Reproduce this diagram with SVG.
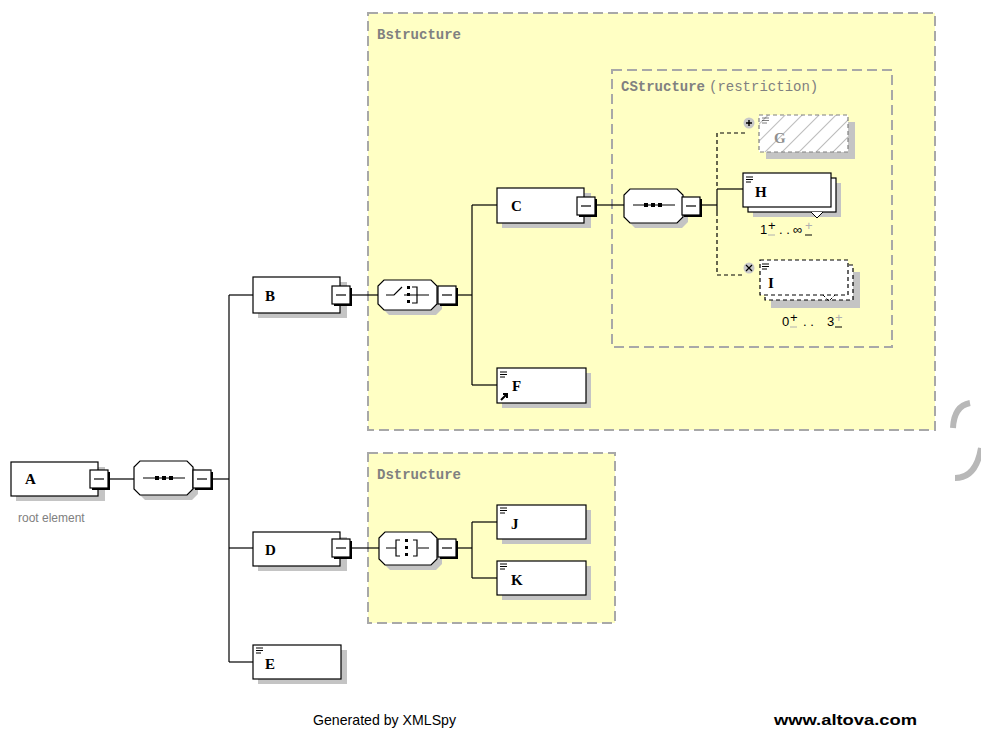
<svg xmlns="http://www.w3.org/2000/svg" width="981" height="736" viewBox="0 0 981 736">
<defs>
<style>
.grp{fill:#FFFFC4;stroke:#A8A8A8;stroke-width:2;stroke-dasharray:10,5}
.glabel{font-family:"Liberation Mono",monospace;font-weight:bold;font-size:14px;fill:#808080}
.gnorm{font-family:"Liberation Mono",monospace;font-size:14px;fill:#808080}
.box{fill:#fff;stroke:#000;stroke-width:1.2}
.shadow{fill:#C4C4C4}
.oct{fill:#fff;stroke:#000;stroke-width:1.2}
.lbl{font-family:"Liberation Serif",serif;font-weight:bold;font-size:15px;fill:#000}
.ln{fill:none;stroke:#000;stroke-width:1.2}
.dln{fill:none;stroke:#000;stroke-width:1.2;stroke-dasharray:4,3}
.mult{font-family:"Liberation Sans",sans-serif;font-size:13px;fill:#000}
.foot{font-family:"Liberation Sans",sans-serif;font-size:15px;fill:#000}
</style>
<pattern id="hatch" width="12" height="12" patternUnits="userSpaceOnUse" patternTransform="rotate(45)">
<rect width="12" height="12" fill="#fff"/>
<line x1="0" y1="0" x2="0" y2="12" stroke="#9A9A9A" stroke-width="1.3"/>
</pattern>
<g id="minus">
<rect x="0" y="0" width="18" height="18" fill="#fff" stroke="#000" stroke-width="1.2"/>
<path d="M2,19 H19 V2" fill="none" stroke="#000" stroke-width="2"/>
<line x1="4" y1="9" x2="14" y2="9" stroke="#000" stroke-width="1.2"/>
</g>
<g id="icon">
<line x1="0" y1="0" x2="7" y2="0" stroke="#000" stroke-width="1"/>
<line x1="0" y1="2.5" x2="7" y2="2.5" stroke="#000" stroke-width="1"/>
<line x1="0" y1="5" x2="5" y2="5" stroke="#000" stroke-width="1"/>
</g>
</defs>

<rect width="981" height="736" fill="#fff"/>

<!-- groups -->
<g id="Bstructure">
<rect class="grp" x="368" y="13" width="567" height="417"/>
<text class="glabel" x="377" y="39">Bstructure</text>
</g>
<g id="CStructure">
<rect class="grp" x="612" y="70" width="280" height="277"/>
<text x="621" y="91"><tspan class="glabel">CStructure</tspan><tspan class="gnorm" dx="4">(restriction)</tspan></text>
</g>
<g id="Dstructure">
<rect class="grp" x="368" y="453" width="247" height="170"/>
<text class="glabel" x="377" y="479">Dstructure</text>
</g>

<!-- connectors -->
<g id="connectors">
<line class="ln" x1="108" y1="479" x2="134" y2="479"/>
<line class="ln" x1="212" y1="479" x2="229" y2="479"/>
<line class="ln" x1="229" y1="295" x2="229" y2="662"/>
<line class="ln" x1="229" y1="295" x2="253" y2="295"/>
<line class="ln" x1="229" y1="548" x2="253" y2="548"/>
<line class="ln" x1="229" y1="662" x2="253" y2="662"/>
<line class="ln" x1="350" y1="295" x2="378" y2="295"/>
<line class="ln" x1="457" y1="295" x2="472" y2="295"/>
<line class="ln" x1="472" y1="205" x2="472" y2="385"/>
<line class="ln" x1="472" y1="205" x2="497" y2="205"/>
<line class="ln" x1="472" y1="385" x2="497" y2="385"/>
<line class="ln" x1="595" y1="205" x2="624" y2="205"/>
<line class="ln" x1="701" y1="205" x2="717" y2="205"/>
<path class="dln" d="M745,133 H717 V189"/>
<line class="ln" x1="717" y1="189" x2="743" y2="189"/>
<line class="ln" x1="717" y1="189" x2="717" y2="212"/>
<path class="dln" d="M717,212 V275 H745"/>
<line class="ln" x1="350" y1="548" x2="379" y2="548"/>
<line class="ln" x1="457" y1="548" x2="472" y2="548"/>
<line class="ln" x1="472" y1="522" x2="472" y2="578"/>
<line class="ln" x1="472" y1="522" x2="497" y2="522"/>
<line class="ln" x1="472" y1="578" x2="497" y2="578"/>
</g>

<!-- A -->
<g id="A">
<rect class="shadow" x="16" y="467" width="89" height="34"/>
<rect class="box" x="11" y="462" width="87" height="34"/>
<use href="#minus" x="90" y="470"/>
<text class="lbl" x="25" y="484">A</text>
<text x="18" y="522" font-family="Liberation Sans,sans-serif" font-size="12" fill="#808080">root element</text>
</g>

<!-- sequence root -->
<g id="seqA">
<path class="shadow" d="M145,466 H192 L198,472 V494 L192,500 H145 L139,494 V472 Z"/>
<path class="oct" d="M140,461 H187 L193,467 V489 L187,495 H140 L134,489 V467 Z"/>
<line x1="143" y1="478" x2="185" y2="478" stroke="#000" stroke-width="1.2"/>
<rect x="155" y="476" width="4" height="4" fill="#000"/>
<rect x="162" y="476" width="4" height="4" fill="#000"/>
<rect x="169" y="476" width="4" height="4" fill="#000"/>
<use href="#minus" x="193" y="470"/>
</g>

<!-- B -->
<g id="B">
<rect class="shadow" x="258" y="282" width="89" height="36"/>
<rect class="box" x="253" y="277" width="87" height="36"/>
<use href="#minus" x="332" y="286"/>
<text class="lbl" x="265" y="301">B</text>
</g>

<!-- choice -->
<g id="choiceB">
<path class="shadow" d="M389,285 H436 L442,291 V309 L436,315 H389 L383,309 V291 Z"/>
<path class="oct" d="M384,280 H431 L437,286 V304 L431,310 H384 L378,304 V286 Z"/>
<path d="M386,295 H394 L402,287 M404,295 H429" fill="none" stroke="#000" stroke-width="1.2"/>
<rect x="407" y="286" width="3" height="3" fill="#000"/>
<rect x="407" y="293" width="3" height="3" fill="#000"/>
<rect x="407" y="300" width="3" height="3" fill="#000"/>
<path d="M412,287 H417 V303 H412" fill="none" stroke="#000" stroke-width="1.2"/>
<use href="#minus" x="438" y="286"/>
</g>

<!-- C -->
<g id="C">
<rect class="shadow" x="502" y="193" width="89" height="35"/>
<rect class="box" x="497" y="188" width="87" height="35"/>
<use href="#minus" x="577" y="197"/>
<text class="lbl" x="511" y="211">C</text>
</g>

<!-- sequence C -->
<g id="seqC">
<path class="shadow" d="M635,194 H682 L688,200 V222 L682,228 H635 L629,222 V200 Z"/>
<path class="oct" d="M630,189 H677 L683,195 V217 L677,223 H630 L624,217 V195 Z"/>
<line x1="633" y1="205" x2="675" y2="205" stroke="#000" stroke-width="1.2"/>
<rect x="644" y="203" width="4" height="4" fill="#000"/>
<rect x="651" y="203" width="4" height="4" fill="#000"/>
<rect x="658" y="203" width="4" height="4" fill="#000"/>
<use href="#minus" x="682" y="197"/>
</g>

<!-- G -->
<g id="G">
<rect class="shadow" x="766" y="122" width="89" height="37"/>
<rect x="759" y="115" width="89" height="37" fill="url(#hatch)" stroke="#808080" stroke-width="1.2" stroke-dasharray="4,3"/>
<circle cx="749" cy="123" r="5.5" fill="#C8C8C8"/>
<path d="M746,123 H752 M749,120 V126" stroke="#000" stroke-width="1.4"/>
<g transform="translate(762,118)" opacity="0.5"><use href="#icon"/></g>
<text class="lbl" x="774" y="143" style="fill:#909090">G</text>
</g>

<!-- H -->
<g id="H">
<rect class="shadow" x="753" y="183" width="88" height="34"/>
<rect class="box" x="748" y="178" width="88" height="34"/>
<rect class="box" x="743" y="173" width="88" height="34"/>
<path d="M811,212 L817,218 L823,212" fill="#fff" stroke="#000" stroke-width="1"/>
<g transform="translate(746,177)"><use href="#icon"/></g>
<text class="lbl" x="755" y="197">H</text>
<text class="mult" x="760" y="234">1</text>
<text class="mult" x="768" y="230" font-size="10">+</text>
<line x1="768" y1="235" x2="775" y2="235" stroke="#B0B0B0" stroke-width="1"/>
<text class="mult" x="779" y="234">. .</text>
<text class="mult" x="793" y="234">∞</text>
<text class="mult" x="805" y="230" font-size="10" style="fill:#B0B0B0">+</text>
<line x1="805" y1="235" x2="812" y2="235" stroke="#000" stroke-width="1"/>
</g>

<!-- I -->
<g id="I">
<rect class="shadow" x="771" y="272" width="89" height="36"/>
<rect x="765" y="265" width="88" height="35" fill="#fff" stroke="#000" stroke-width="1.2" stroke-dasharray="4,3"/>
<rect x="760" y="260" width="88" height="35" fill="#fff" stroke="#000" stroke-width="1.2" stroke-dasharray="4,3"/>
<path d="M823,295 L829,301 L835,295" fill="none" stroke="#000" stroke-width="1" stroke-dasharray="3,2"/>
<circle cx="749" cy="268" r="5.5" fill="#C8C8C8"/>
<path d="M746,265 L752,271 M752,265 L746,271" stroke="#000" stroke-width="1.2"/>
<g transform="translate(762,264)"><use href="#icon"/></g>
<text class="lbl" x="768" y="288">I</text>
<text class="mult" x="782" y="326">0</text>
<text class="mult" x="790" y="322" font-size="10">+</text>
<line x1="790" y1="327" x2="797" y2="327" stroke="#B0B0B0" stroke-width="1"/>
<text class="mult" x="803" y="326">. .</text>
<text class="mult" x="827" y="326">3</text>
<text class="mult" x="835" y="322" font-size="10" style="fill:#B0B0B0">+</text>
<line x1="835" y1="327" x2="842" y2="327" stroke="#000" stroke-width="1"/>
</g>

<!-- F -->
<g id="F">
<rect class="shadow" x="502" y="373" width="89" height="35"/>
<rect class="box" x="497" y="368" width="89" height="35"/>
<g transform="translate(500,372)"><use href="#icon"/></g>
<path d="M501,400 L507,394 M503,394 H507 V398" fill="none" stroke="#000" stroke-width="2"/>
<text class="lbl" x="512" y="391">F</text>
</g>

<!-- D -->
<g id="D">
<rect class="shadow" x="258" y="537" width="89" height="34"/>
<rect class="box" x="253" y="532" width="87" height="34"/>
<use href="#minus" x="332" y="539"/>
<text class="lbl" x="265" y="555">D</text>
</g>

<!-- all -->
<g id="allD">
<path class="shadow" d="M390,537 H436 L442,543 V564 L436,570 H390 L384,564 V543 Z"/>
<path class="oct" d="M385,532 H431 L437,538 V559 L431,565 H385 L379,559 V538 Z"/>
<path d="M386,548 H396 M418,548 H429" fill="none" stroke="#000" stroke-width="1.2"/>
<path d="M400,540 H396 V556 H400" fill="none" stroke="#000" stroke-width="1.2"/>
<path d="M413,540 H417 V556 H413" fill="none" stroke="#000" stroke-width="1.2"/>
<rect x="405" y="539" width="3" height="3" fill="#000"/>
<rect x="405" y="546" width="3" height="3" fill="#000"/>
<rect x="405" y="553" width="3" height="3" fill="#000"/>
<use href="#minus" x="438" y="539"/>
</g>

<!-- J -->
<g id="J">
<rect class="shadow" x="502" y="510" width="89" height="34"/>
<rect class="box" x="497" y="505" width="89" height="34"/>
<g transform="translate(500,508)"><use href="#icon"/></g>
<text class="lbl" x="511" y="529">J</text>
</g>

<!-- K -->
<g id="K">
<rect class="shadow" x="502" y="566" width="89" height="34"/>
<rect class="box" x="497" y="561" width="89" height="34"/>
<g transform="translate(500,564)"><use href="#icon"/></g>
<text class="lbl" x="511" y="585">K</text>
</g>

<!-- E -->
<g id="E">
<rect class="shadow" x="258" y="650" width="89" height="34"/>
<rect class="box" x="253" y="645" width="88" height="34"/>
<g transform="translate(256,648)"><use href="#icon"/></g>
<text class="lbl" x="265" y="669">E</text>
</g>

<!-- watermark arcs -->
<path d="M953,428 Q954,406 970,403" fill="none" stroke="#B8B8B8" stroke-width="6"/>
<path d="M955,478 Q976,478 981,448" fill="none" stroke="#B8B8B8" stroke-width="6"/>

<!-- footer -->
<text class="foot" x="313" y="725" textLength="143" lengthAdjust="spacingAndGlyphs">Generated by XMLSpy</text>
<text class="foot" x="774" y="725" font-weight="bold" textLength="143" lengthAdjust="spacingAndGlyphs">www.altova.com</text>
</svg>
